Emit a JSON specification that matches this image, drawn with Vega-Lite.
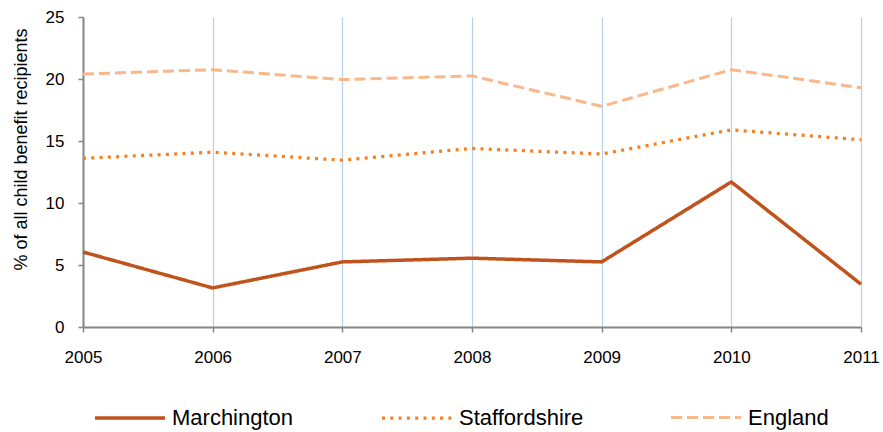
{
  "$schema": "https://vega.github.io/schema/vega-lite/v6.json",
  "width": 778,
  "height": 310,
  "autosize": {"type": "none"},
  "padding": {"left": 83, "top": 17, "right": 22, "bottom": 105},
  "background": "white",
  "config": {
    "font": "Liberation Sans",
    "view": {"stroke": null},
    "axis": {"labelColor": "#000000", "titleColor": "#000000", "domainColor": "#868686", "tickColor": "#868686", "labelFont": "Liberation Sans", "titleFont": "Liberation Sans"}
  },
  "data": {
    "values": [
      {"year": 2005, "area": "Marchington", "value": 6.05},
      {"year": 2006, "area": "Marchington", "value": 3.15},
      {"year": 2007, "area": "Marchington", "value": 5.25},
      {"year": 2008, "area": "Marchington", "value": 5.55},
      {"year": 2009, "area": "Marchington", "value": 5.25},
      {"year": 2010, "area": "Marchington", "value": 11.7},
      {"year": 2011, "area": "Marchington", "value": 3.45},
      {"year": 2005, "area": "Staffordshire", "value": 13.6},
      {"year": 2006, "area": "Staffordshire", "value": 14.1},
      {"year": 2007, "area": "Staffordshire", "value": 13.45},
      {"year": 2008, "area": "Staffordshire", "value": 14.4},
      {"year": 2009, "area": "Staffordshire", "value": 13.95},
      {"year": 2010, "area": "Staffordshire", "value": 15.9},
      {"year": 2011, "area": "Staffordshire", "value": 15.1},
      {"year": 2005, "area": "England", "value": 20.4},
      {"year": 2006, "area": "England", "value": 20.75},
      {"year": 2007, "area": "England", "value": 19.95},
      {"year": 2008, "area": "England", "value": 20.25},
      {"year": 2009, "area": "England", "value": 17.8},
      {"year": 2010, "area": "England", "value": 20.75},
      {"year": 2011, "area": "England", "value": 19.3}
    ]
  },
  "mark": {"type": "line", "strokeCap": "butt", "strokeJoin": "round"},
  "encoding": {
    "x": {
      "field": "year", "type": "quantitative",
      "scale": {"domain": [2005, 2011], "nice": false, "zero": false},
      "axis": {"title": null, "values": [2005, 2006, 2007, 2008, 2009, 2010, 2011], "format": "d", "labelFontSize": 17, "tickSize": 5, "labelPadding": 17, "grid": true, "gridColor": "#b9cde5", "gridWidth": 1.2, "domainWidth": 2, "tickWidth": 1.5, "labelFlush": false}
    },
    "y": {
      "field": "value", "type": "quantitative",
      "scale": {"domain": [0, 25], "nice": false},
      "axis": {"title": "% of all child benefit recipients", "values": [0, 5, 10, 15, 20, 25], "labelFontSize": 17, "titleFontSize": 18, "titleFontWeight": "normal", "titleX": -62, "titleY": 132, "titleBaseline": "middle", "titleAlign": "center", "titleAngle": -90, "tickSize": 5, "labelPadding": 14, "grid": false, "domainWidth": 2, "tickWidth": 1.5}
    },
    "color": {
      "field": "area", "type": "nominal",
      "scale": {"domain": ["Marchington", "Staffordshire", "England"], "range": ["#c0531c", "#f5801f", "#f9b78a"]},
      "legend": {"title": null, "orient": "none", "legendX": 10, "legendY": 364, "direction": "horizontal", "columns": 3, "gridAlign": "none", "columnPadding": 81, "symbolType": "stroke", "symbolSize": 4900, "symbolStrokeWidth": 4, "labelFontSize": 22, "labelColor": "#000000", "labelOffset": 5, "labelFont": "Liberation Sans"}
    },
    "strokeDash": {
      "field": "area", "type": "nominal",
      "scale": {"domain": ["Marchington", "Staffordshire", "England"], "range": [[1, 0], [3, 5.3], [11, 5]]},
      "legend": null
    },
    "strokeWidth": {
      "field": "area", "type": "nominal",
      "scale": {"domain": ["Marchington", "Staffordshire", "England"], "range": [3.5, 3, 4]},
      "legend": null
    }
  }
}
